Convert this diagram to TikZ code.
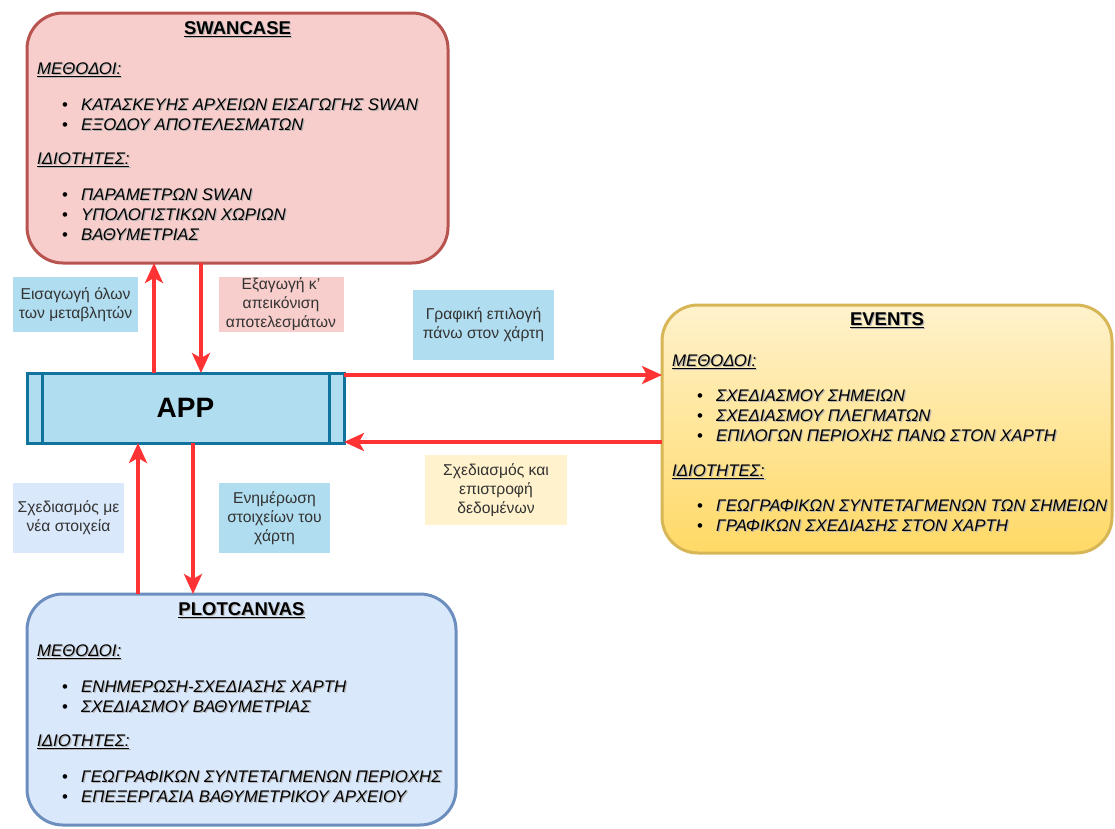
\documentclass[tikz,border=0pt]{standalone}
\usepackage{fontspec}
\setmainfont{Liberation Sans}
\usetikzlibrary{arrows.meta}

\definecolor{swanfill}{HTML}{F8CECC}
\definecolor{swanline}{HTML}{B85450}
\definecolor{appfill}{HTML}{B1DDF0}
\definecolor{appline}{HTML}{10739E}
\definecolor{evtop}{HTML}{FFF2CC}
\definecolor{evbot}{HTML}{FFD966}
\definecolor{evline}{HTML}{D6B656}
\definecolor{plotfill}{HTML}{DAE8FC}
\definecolor{plotline}{HTML}{6C8EBF}
\definecolor{arrowred}{HTML}{FF3333}

% text with a soft shadow, and one bullet line
\newcommand\shd[1]{\makebox[0pt][l]{\hspace{1.2pt}\raisebox{-1.2pt}{\textcolor{black!30}{#1}}}#1}
\newcommand\bul[1]{\makebox[19pt][l]{\upshape\textbullet}\shd{#1}}

\begin{document}
\begin{tikzpicture}[x=1pt, y=-1pt,
		classbox/.style={draw, line width=3pt, rounded corners=36pt, outer sep=0pt},
		classtitle/.style={font=\bfseries\fontsize{18.5}{21}\selectfont, inner sep=0pt},
		sechead/.style={font=\itshape\fontsize{16.8}{21}\selectfont, inner sep=0pt, anchor=west},
		itemlist/.style={font=\itshape\fontsize{16.8}{20}\selectfont, inner sep=0pt, align=left, anchor=west},
		note/.style={fill=#1, inner sep=0pt, align=center, text=black!80, font=\fontsize{15.7}{19}\selectfont},
		flow/.style={draw=arrowred, line width=3.5pt, -{Stealth[length=20pt, width=18pt, inset=5pt]}}]
		\useasboundingbox (0,0) rectangle (1115,828);
		
		% the three classes
		\node[classbox, fill=swanfill, draw=swanline, minimum width=421, minimum height=250] (swan) at (237.5,138) {};
		\node[classbox, draw=evline, top color=evtop, bottom color=evbot, minimum width=450, minimum height=248] (events) at (887,429) {};
		\node[classbox, fill=plotfill, draw=plotline, minimum width=429, minimum height=231] (plot) at (241.5,709.5) {};
		
		% main window
		\node[draw=appline, fill=appfill, line width=3pt, outer sep=0pt, minimum width=317, minimum height=70,
			font=\bfseries\fontsize{28}{32}\selectfont] (app) at (185.5,408) {APP};
		\draw[appline, line width=3pt] ([xshift=15]app.north west) -- ([xshift=15]app.south west)
			([xshift=-15]app.north east) -- ([xshift=-15]app.south east);
		
		% SWANCASE
		\node[classtitle] (swanname) at ([yshift=-17]swan.north) {\shd{\underline{SWANCASE}}};
		\node[sechead] (swanmeth) at ([xshift=10, yshift=-57]swan.north west) {\shd{\underline{ΜΕΘΟΔΟΙ:}}};
		\node[itemlist] (swanmethl) at ([xshift=35, yshift=-102]swan.north west)
			{\bul{ΚΑΤΑΣΚΕΥΗΣ ΑΡΧΕΙΩΝ ΕΙΣΑΓΩΓΗΣ SWAN}\\ \bul{ΕΞΟΔΟΥ ΑΠΟΤΕΛΕΣΜΑΤΩΝ}};
		\node[sechead] (swanprop) at ([xshift=10, yshift=-147]swan.north west) {\shd{\underline{ΙΔΙΟΤΗΤΕΣ:}}};
		\node[itemlist] (swanpropl) at ([xshift=35, yshift=-202.5]swan.north west)
			{\bul{ΠΑΡΑΜΕΤΡΩΝ SWAN}\\ \bul{ΥΠΟΛΟΓΙΣΤΙΚΩΝ ΧΩΡΙΩΝ}\\ \bul{ΒΑΘΥΜΕΤΡΙΑΣ}};
		
		% EVENTS
		\node[classtitle] (evname) at ([yshift=-16]events.north) {\shd{\underline{EVENTS}}};
		\node[sechead] (evmeth) at ([xshift=10, yshift=-57]events.north west) {\shd{\underline{ΜΕΘΟΔΟΙ:}}};
		\node[itemlist] (evmethl) at ([xshift=35, yshift=-111]events.north west)
			{\bul{ΣΧΕΔΙΑΣΜΟΥ ΣΗΜΕΙΩΝ}\\ \bul{ΣΧΕΔΙΑΣΜΟΥ ΠΛΕΓΜΑΤΩΝ}\\ \bul{ΕΠΙΛΟΓΩΝ ΠΕΡΙΟΧΗΣ ΠΑΝΩ ΣΤΟΝ ΧΑΡΤΗ}};
		\node[sechead] (evprop) at ([xshift=10, yshift=-167]events.north west) {\shd{\underline{ΙΔΙΟΤΗΤΕΣ:}}};
		\node[itemlist] (evpropl) at ([xshift=35, yshift=-211]events.north west)
			{\bul{ΓΕΩΓΡΑΦΙΚΩΝ ΣΥΝΤΕΤΑΓΜΕΝΩΝ ΤΩΝ ΣΗΜΕΙΩΝ}\\ \bul{ΓΡΑΦΙΚΩΝ ΣΧΕΔΙΑΣΗΣ ΣΤΟΝ ΧΑΡΤΗ}};
		
		% PLOTCANVAS
		\node[classtitle] (plotname) at ([yshift=-17]plot.north) {\shd{\underline{PLOTCANVAS}}};
		\node[sechead] (plotmeth) at ([xshift=10, yshift=-58]plot.north west) {\shd{\underline{ΜΕΘΟΔΟΙ:}}};
		\node[itemlist] (plotmethl) at ([xshift=35, yshift=-103]plot.north west)
			{\bul{ΕΝΗΜΕΡΩΣΗ-ΣΧΕΔΙΑΣΗΣ ΧΑΡΤΗ}\\ \bul{ΣΧΕΔΙΑΣΜΟΥ ΒΑΘΥΜΕΤΡΙΑΣ}};
		\node[sechead] (plotprop) at ([xshift=10, yshift=-148]plot.north west) {\shd{\underline{ΙΔΙΟΤΗΤΕΣ:}}};
		\node[itemlist] (plotpropl) at ([xshift=35, yshift=-193.5]plot.north west)
			{\bul{ΓΕΩΓΡΑΦΙΚΩΝ ΣΥΝΤΕΤΑΓΜΕΝΩΝ ΠΕΡΙΟΧΗΣ}\\ \bul{ΕΠΕΞΕΡΓΑΣΙΑ ΒΑΘΥΜΕΤΡΙΚΟΥ ΑΡΧΕΙΟΥ}};
		
		% labels of the arrows
		\node[note=appfill, minimum width=125, minimum height=55] (inlbl) at (75.5,304.5) {Εισαγωγή όλων\\των μεταβλητών};
		\node[note=swanfill, minimum width=125, minimum height=55] (outlbl) at (281,304.5) {Εξαγωγή κ'\\απεικόνιση\\αποτελεσμάτων};
		\node[note=appfill, minimum width=141, minimum height=70] (picklbl) at (483.5,325) {Γραφική επιλογή\\πάνω στον χάρτη};
		\node[note=evtop, minimum width=142, minimum height=70] (retlbl) at (496,490) {Σχεδιασμός και\\επιστροφή\\δεδομένων};
		\node[note=plotfill, minimum width=111, minimum height=70] (drawlbl) at (68.5,518) {Σχεδιασμός με\\νέα στοιχεία};
		\node[note=appfill, minimum width=111, minimum height=70] (updlbl) at (274.5,518) {Ενημέρωση\\στοιχείων του\\χάρτη};
		
		% arrows
		\draw[flow] ([xshift=-31.5]app.north) -- ([xshift=-31.5]app.north |- swan.south);
		\draw[flow] ([xshift=15.5]app.north |- swan.south) -- ([xshift=15.5]app.north);
		\draw[flow] ([yshift=-2]app.north east) -- ([yshift=-2]app.north east -| events.west);
		\draw[flow] ([yshift=1]app.south east -| events.west) -- ([yshift=1]app.south east);
		\draw[flow] ([xshift=-47.5]app.south |- plot.north) -- ([xshift=-47.5]app.south);
		\draw[flow] ([xshift=7.5]app.south) -- ([xshift=7.5]app.south |- plot.north);
	\end{tikzpicture}
\end{document}
